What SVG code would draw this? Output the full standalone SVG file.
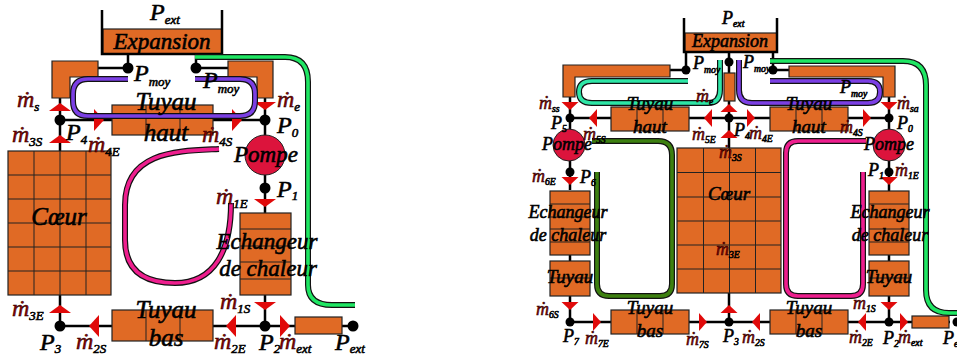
<svg xmlns="http://www.w3.org/2000/svg" width="957" height="363" viewBox="0 0 957 363">
<style>
text{font-family:"Liberation Serif","Times New Roman",serif;font-style:italic;fill:#000;stroke:#000;stroke-width:.6}
.b{font-size:25px}.c{font-size:19px}.m{text-anchor:middle}
.h{font-size:23px}.i{font-size:18px}
.l{font-size:24px}.k{font-size:18px}
.s{font-size:54%}
.r{fill:#8b0000;stroke:#200;stroke-width:.5}
.o{fill:#e06a25;stroke:#222;stroke-width:1.2}
.g{fill:none;stroke:#222;stroke-width:1}
.w{fill:none;stroke:#000;stroke-width:2.5}
.t{fill:#e00a0a}
.d{fill:#000}
.p{fill:#dc143c;stroke:#222;stroke-width:1}
.po{fill:none;stroke:#111;stroke-width:6;stroke-linecap:butt}
.pu,.pk,.gr,.te,.dg{fill:none;stroke-width:3.6}
.pu{stroke:#7b3fe4}.pk{stroke:#ee1e8e}.gr{stroke:#1fe663}.te{stroke:#2ee6a6}.dg{stroke:#3d8010}
</style>
<defs>
<path id="pa" d="M128 79H88Q73 79 73 94V101Q73 116 88 116H240Q255 116 255 101V94Q255 79 240 79H195"/>
<path id="pb" d="M219 149C180 151 125 150 125 205V240Q125 283 175 283C215 283 231 250 231 203"/>
<path id="pc" d="M195 57H285Q308 57 308 82V285Q308 305 332 305H355"/>
<path id="pd" d="M688 81H592Q579 81 579 92Q579 103 592 103H708Q720 103 720 90V60"/>
<path id="pe" d="M739 60V90Q739 103 752 103H868Q880 103 880 92Q880 81 868 81H770"/>
<path id="pf" d="M770 61H903Q926 61 926 85V290Q926 313 949 313H957"/>
<path id="pg" d="M866 141H798Q786 141 786 153V284Q786 296 798 296H851Q863 296 863 284V172"/>
<path id="ph" d="M592 141H658Q672 141 672 155V284Q672 296 660 296H609Q597 296 597 284V172"/>
<path id="tu" d="M-11 -4L11 -4L0 4Z"/>
<path id="td" d="M-11 4L11 4L0 -4Z"/>
<path id="tr" d="M-5 -11L5 0L-5 11Z"/>
<path id="tl" d="M5 -11L-5 0L5 11Z"/>
<path id="su" d="M-8.500 -4L8.500 -4L0 4Z"/>
<path id="sd" d="M-8.500 4L8.500 4L0 -4Z"/>
<path id="sr" d="M-4 -9L4 0L-4 9Z"/>
<path id="sl" d="M4 -9L-4 0L4 9Z"/>
</defs>
<g id="connectors">
<path class="w" d="M60 98V151M60 295V326H353M265 98V213M265 295V326M60 120H265M98 68H128V54M196 54V68H228"/>
<path class="w" d="M570 97V190M570 255V261M570 296V322H950M570 118H889M729 52V73M729 101V148M729 293V322M889 97V191M889 255V261M889 296V322M670 70H686V52M773 52V70H789"/>
</g>
<g id="expansion-a"><rect class="o" x="103" y="29" width="119" height="25"/><path class="w" d="M102 10V54H222V10"/></g>
<g id="coude-a1"><path class="o" d="M52 61H98V77H70V98H52Z"/></g>
<g id="coude-a2"><path class="o" d="M228 61H273V98H257V77H228Z"/></g>
<g id="tuyau-haut-a"><rect class="o" x="112" y="105" width="101" height="30"/><path class="g" d="M146 105V135M180 105V135"/></g>
<g id="tuyau-bas-a"><rect class="o" x="112" y="310" width="101" height="31"/><path class="g" d="M146 310V341M180 310V341"/></g>
<g id="coeur-a"><rect class="o" x="8" y="151" width="103" height="144"/><path class="g" d="M34 151V295M60 151V295M86 151V295M8 175H111M8 199H111M8 223H111M8 247H111M8 271H111"/></g>
<g id="echangeur-a"><rect class="o" x="240" y="213" width="51" height="82"/><path class="g" d="M240 229H291M240 246H291M240 262H291M240 279H291"/></g>
<g id="ext-a"><rect class="o" x="295" y="317" width="47" height="17"/></g>
<g id="pompe-a"><circle class="p" cx="265" cy="155" r="20"/></g>
<g id="expansion-b"><rect class="o" x="685" y="33" width="92" height="19"/><path class="w" d="M684 18V52H777V18"/></g>
<g id="coude-b1"><path class="o" d="M563 65H670V77H575V97H563Z"/></g>
<g id="coude-b2"><path class="o" d="M789 66H895V97H883V77H789Z"/></g>
<g id="colonne-b"><rect class="o" x="724" y="73" width="11" height="28"/></g>
<g id="tuyau-haut-b1"><rect class="o" x="611" y="107" width="78" height="24"/><path class="g" d="M637 107V131M663 107V131"/></g>
<g id="tuyau-haut-b2"><rect class="o" x="770" y="107" width="78" height="24"/><path class="g" d="M796 107V131M822 107V131"/></g>
<g id="tuyau-bas-b1"><rect class="o" x="611" y="310" width="78" height="24"/><path class="g" d="M637 310V334M663 310V334"/></g>
<g id="tuyau-bas-b2"><rect class="o" x="770" y="310" width="78" height="24"/><path class="g" d="M796 310V334M822 310V334"/></g>
<g id="coeur-b"><rect class="o" x="677" y="148" width="104" height="145"/><path class="g" d="M703.500 148V293M729.500 148V293M755.500 148V293M677 172.500H781M677 197H781M677 221H781M677 245H781M677 269H781"/></g>
<g id="echangeur-b1"><rect class="o" x="550" y="191" width="40" height="64"/><path class="g" d="M550 204H590M550 217H590M550 229H590M550 242H590"/></g>
<g id="echangeur-b2"><rect class="o" x="869" y="191" width="40" height="64"/><path class="g" d="M869 204H909M869 217H909M869 229H909M869 242H909"/></g>
<g id="tuyau-b1"><rect class="o" x="550" y="261" width="40" height="35"/><path class="g" d="M550 278H590"/></g>
<g id="tuyau-b2"><rect class="o" x="869" y="261" width="40" height="35"/><path class="g" d="M869 278H909"/></g>
<g id="ext-b"><rect class="o" x="912" y="316" width="37" height="12"/></g>
<g id="pompe-b1"><circle class="p" cx="569" cy="145" r="16"/></g>
<g id="pompe-b2"><circle class="p" cx="889" cy="145" r="16"/></g>
<g id="arrows" class="t">
<use href="#td" x="60" y="107"/><use href="#td" x="60" y="139"/><use href="#tu" x="265" y="106"/><use href="#tu" x="265" y="203"/><use href="#tu" x="265" y="306"/><use href="#td" x="60" y="309"/>
<use href="#tr" x="99" y="120"/><use href="#tr" x="237" y="120"/><use href="#tl" x="94" y="326"/><use href="#tl" x="231" y="326"/><use href="#tr" x="285" y="326"/>
<use href="#su" x="570" y="106"/><use href="#sd" x="729" y="108"/><use href="#sd" x="729" y="134"/><use href="#su" x="889" y="106"/><use href="#su" x="570" y="181"/><use href="#su" x="889" y="181"/><use href="#su" x="570" y="306"/><use href="#su" x="889" y="306"/><use href="#sd" x="729" y="309"/>
<use href="#sl" x="593" y="118"/><use href="#sl" x="708" y="118"/><use href="#sr" x="751" y="118"/><use href="#sr" x="867" y="118"/>
<use href="#sr" x="597" y="322"/><use href="#sr" x="703" y="322"/><use href="#sl" x="756" y="322"/><use href="#sl" x="862" y="322"/><use href="#sr" x="904" y="322"/>
</g>
<g id="junctions" class="d">
<circle cx="128" cy="68" r="5.500"/><circle cx="196" cy="68" r="5.500"/><circle cx="60" cy="120" r="5.500"/><circle cx="265" cy="120" r="5.500"/><circle cx="265" cy="188" r="5.500"/><circle cx="60" cy="326" r="5.500"/><circle cx="265" cy="326" r="5.500"/><circle cx="353" cy="326" r="5.500"/>
<circle cx="686" cy="70" r="4.500"/><circle cx="729" cy="62" r="4.500"/><circle cx="773" cy="70" r="4.500"/><circle cx="570" cy="118" r="4.500"/><circle cx="729" cy="118" r="4.500"/><circle cx="889" cy="118" r="4.500"/><circle cx="570" cy="172" r="4.500"/><circle cx="889" cy="172" r="4.500"/><circle cx="570" cy="322" r="4.500"/><circle cx="729" cy="322" r="4.500"/><circle cx="889" cy="322" r="4.500"/><circle cx="957" cy="322" r="4.500"/>
</g>
<g id="pipes">
<use href="#pa" class="po"/><use href="#pa" class="pu"/>
<use href="#pb" class="po"/><use href="#pb" class="pk"/>
<use href="#pc" class="po"/><use href="#pc" class="gr"/>
<use href="#pd" class="po"/><use href="#pd" class="te"/>
<use href="#pe" class="po"/><use href="#pe" class="pu"/>
<use href="#pf" class="po"/><use href="#pf" class="gr"/>
<use href="#pg" class="po"/><use href="#pg" class="pk"/>
<use href="#ph" class="po"/><use href="#ph" class="dg"/>
</g>
<g id="labels-a">
<text class="h m" x="162" y="49">Expansion</text>
<text class="b m" x="166" y="110">Tuyau</text><text class="b m" x="166" y="141">haut</text>
<text class="b m" x="166" y="318">Tuyau</text><text class="b m" x="166" y="346">bas</text>
<text class="b m" x="59" y="225">Cœur</text><text class="h m" x="266" y="162">Pompe</text>
<text class="h m" x="267" y="249">Echangeur</text><text class="h m" x="268" y="276">de chaleur</text>
<text class="l" x="150" y="20">P<tspan class="s" dy="4">ext</tspan></text>
<text class="l" x="134" y="81">P<tspan class="s" dy="5">moy</tspan></text>
<text class="l" x="203" y="88">P<tspan class="s" dy="5">moy</tspan></text>
<text class="l" x="66" y="140">P<tspan class="s" dy="4">4</tspan></text>
<text class="l" x="277" y="133">P<tspan class="s" dy="4">0</tspan></text>
<text class="l" x="277" y="197">P<tspan class="s" dy="3">1</tspan></text>
<text class="l" x="40" y="350">P<tspan class="s" dy="3">3</tspan></text>
<text class="l" x="259" y="350">P<tspan class="s" dy="3">2</tspan></text>
<text class="l" x="335" y="350">P<tspan class="s" dy="3">ext</tspan></text>
<text class="l" x="17" y="107"><tspan class="r">ṁ</tspan><tspan class="s" dy="4">s</tspan></text>
<text class="l" x="277" y="107"><tspan class="r">ṁ</tspan><tspan class="s" dy="4">e</tspan></text>
<text class="l" x="12" y="142"><tspan class="r">ṁ</tspan><tspan class="s" dy="4">3S</tspan></text>
<text class="l" x="88" y="152"><tspan class="r">ṁ</tspan><tspan class="s" dy="4">4E</tspan></text>
<text class="l" x="202" y="142"><tspan class="r">ṁ</tspan><tspan class="s" dy="4">4S</tspan></text>
<text class="l" x="216" y="204"><tspan class="r">ṁ</tspan><tspan class="s" dy="4">1E</tspan></text>
<text class="l" x="12" y="316"><tspan class="r">ṁ</tspan><tspan class="s" dy="4">3E</tspan></text>
<text class="l" x="220" y="309"><tspan class="r">ṁ</tspan><tspan class="s" dy="4">1S</tspan></text>
<text class="l" x="76" y="349"><tspan class="r">ṁ</tspan><tspan class="s" dy="4">2S</tspan></text>
<text class="l" x="214" y="349"><tspan class="r">ṁ</tspan><tspan class="s" dy="4">2E</tspan></text>
<text class="l" x="279" y="349"><tspan class="r">ṁ</tspan><tspan class="s" dy="4">ext</tspan></text>
</g>
<g id="labels-b">
<text class="i m" x="730" y="47">Expansion</text>
<text class="c m" x="650" y="110">Tuyau</text><text class="c m" x="650" y="133">haut</text>
<text class="c m" x="809" y="110">Tuyau</text><text class="c m" x="809" y="133">haut</text>
<text class="c m" x="650" y="314">Tuyau</text><text class="c m" x="650" y="337">bas</text>
<text class="c m" x="809" y="314">Tuyau</text><text class="c m" x="809" y="337">bas</text>
<text class="c m" x="729" y="200">Cœur</text>
<text class="i m" x="567" y="150">Pompe</text><text class="i m" x="889" y="150">Pompe</text>
<text class="i m" x="568" y="218">Echangeur</text><text class="i m" x="568" y="241">de chaleur</text>
<text class="i m" x="890" y="218">Echangeur</text><text class="i m" x="890" y="241">de chaleur</text>
<text class="c m" x="570" y="283">Tuyau</text><text class="c m" x="889" y="283">Tuyau</text>
<text class="k" x="722" y="24">P<tspan class="s" dy="3">ext</tspan></text>
<text class="k" x="693" y="69">P<tspan class="s" dy="4">moy</tspan></text>
<text class="k" x="743" y="68">P<tspan class="s" dy="4">moy</tspan></text>
<text class="k" x="840" y="93">P<tspan class="s" dy="4">moy</tspan></text>
<text class="k" x="551" y="129">P<tspan class="s" dy="3">5</tspan></text>
<text class="k" x="734" y="136">P<tspan class="s" dy="3">4</tspan></text>
<text class="k" x="897" y="129">P<tspan class="s" dy="3">0</tspan></text>
<text class="k" x="868" y="176">P<tspan class="s" dy="3">1</tspan></text>
<text class="k" x="580" y="183">P<tspan class="s" dy="3">6</tspan></text>
<text class="k" x="563" y="342">P<tspan class="s" dy="3">7</tspan></text>
<text class="k" x="723" y="342">P<tspan class="s" dy="3">3</tspan></text>
<text class="k" x="883" y="344">P<tspan class="s" dy="3">2</tspan></text>
<text class="k" x="943" y="344">P<tspan class="s" dy="3">ext</tspan></text>
<text class="k" x="539" y="109"><tspan class="r">ṁ</tspan><tspan class="s" dy="3">ss</tspan></text>
<text class="k" x="696" y="102"><tspan class="r">ṁ</tspan><tspan class="s" dy="3">e</tspan></text>
<text class="k" x="897" y="109"><tspan class="r">ṁ</tspan><tspan class="s" dy="3">sa</tspan></text>
<text class="k" x="583" y="140"><tspan class="r">ṁ</tspan><tspan class="s" dy="3">5S</tspan></text>
<text class="k" x="692" y="140"><tspan class="r">ṁ</tspan><tspan class="s" dy="3">5E</tspan></text>
<text class="k" x="749" y="139"><tspan class="r">ṁ</tspan><tspan class="s" dy="3">4E</tspan></text>
<text class="k" x="840" y="133"><tspan class="r">ṁ</tspan><tspan class="s" dy="3">4S</tspan></text>
<text class="k" x="719" y="158"><tspan class="r">ṁ</tspan><tspan class="s" dy="3">3S</tspan></text>
<text class="k" x="895" y="176"><tspan class="r">ṁ</tspan><tspan class="s" dy="3">1E</tspan></text>
<text class="k" x="532" y="182"><tspan class="r">ṁ</tspan><tspan class="s" dy="3">6E</tspan></text>
<text class="k" x="536" y="315"><tspan class="r">ṁ</tspan><tspan class="s" dy="3">6S</tspan></text>
<text class="k" x="716" y="255"><tspan class="r">ṁ</tspan><tspan class="s" dy="3">3E</tspan></text>
<text class="k" x="853" y="309"><tspan class="r">m</tspan><tspan class="s" dy="3">1S</tspan></text>
<text class="k" x="585" y="344"><tspan class="r">ṁ</tspan><tspan class="s" dy="3">7E</tspan></text>
<text class="k" x="686" y="345"><tspan class="r">ṁ</tspan><tspan class="s" dy="3">7S</tspan></text>
<text class="k" x="742" y="343"><tspan class="r">ṁ</tspan><tspan class="s" dy="3">2S</tspan></text>
<text class="k" x="849" y="343"><tspan class="r">ṁ</tspan><tspan class="s" dy="3">2E</tspan></text>
<text class="k" x="898" y="343"><tspan class="r">ṁ</tspan><tspan class="s" dy="3">ext</tspan></text>
</g>
</svg>
